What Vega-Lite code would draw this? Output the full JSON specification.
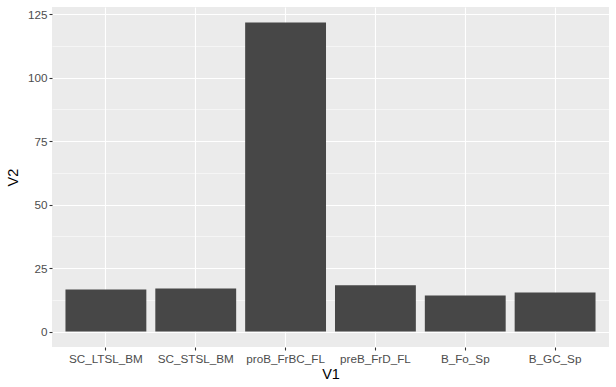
{
  "$schema": "https://vega.github.io/schema/vega-lite/v6.json",
  "width": 557,
  "height": 340,
  "autosize": {"type": "none"},
  "padding": {"left": 52, "top": 7, "right": 7, "bottom": 40},
  "background": "white",
  "config": {
    "view": {"fill": "#EBEBEB", "stroke": null},
    "font": "Liberation Sans",
    "axis": {
      "domain": false,
      "gridColor": "white",
      "gridWidth": 1.1,
      "tickColor": "#333333",
      "tickSize": 3,
      "tickWidth": 1.1,
      "labelColor": "#4D4D4D",
      "labelFontSize": 11.7,
      "labelPadding": 2,
      "titleColor": "black",
      "titleFontSize": 14.5,
      "titleFontWeight": "normal"
    }
  },
  "data": {
    "values": [
      {"V1": "SC_LTSL_BM", "V2": 16.6},
      {"V1": "SC_STSL_BM", "V2": 17.0},
      {"V1": "proB_FrBC_FL", "V2": 121.8},
      {"V1": "preB_FrD_FL", "V2": 18.2},
      {"V1": "B_Fo_Sp", "V2": 14.2},
      {"V1": "B_GC_Sp", "V2": 15.4}
    ]
  },
  "resolve": {"axis": {"y": "independent"}},
  "layer": [
    {
      "mark": {"type": "bar", "opacity": 0},
      "encoding": {
        "x": {"field": "V1", "type": "nominal", "sort": null,
              "scale": {"paddingInner": 0.1, "paddingOuter": 0.15},
              "axis": {"labelAngle": 0, "labelAlign": "center", "labelBaseline": "top", "grid": true,
                       "bandPosition": 0.5, "labelPadding": 3, "titlePadding": 3, "title": "V1"}},
        "y": {"field": "V2", "type": "quantitative",
              "scale": {"domain": [-6.09, 127.89], "nice": false, "zero": false},
              "axis": {"orient": "left", "values": [12.5, 37.5, 62.5, 87.5, 112.5], "grid": true,
                       "gridWidth": 0.5, "labels": false, "ticks": false, "title": null}}
      }
    },
    {
      "mark": {"type": "bar", "color": "#474747"},
      "encoding": {
        "x": {"field": "V1", "type": "nominal", "sort": null,
              "scale": {"paddingInner": 0.1, "paddingOuter": 0.15}},
        "y": {"field": "V2", "type": "quantitative",
              "scale": {"domain": [-6.09, 127.89], "nice": false, "zero": false},
              "axis": {"orient": "left", "values": [0, 25, 50, 75, 100, 125], "grid": true, "title": "V2", "titlePadding": 7}}
      }
    }
  ]
}
